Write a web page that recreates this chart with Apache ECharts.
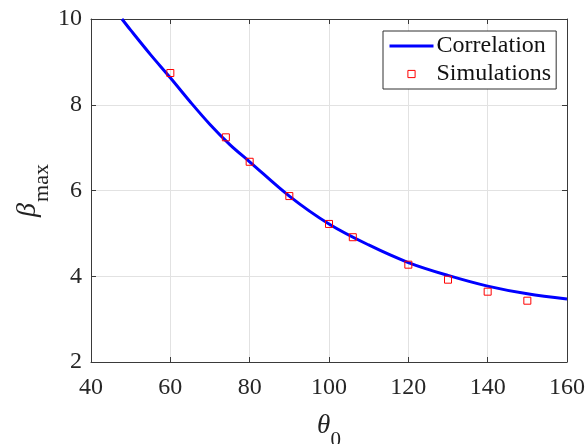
<!DOCTYPE html>
<html>
<head>
<meta charset="utf-8">
<script src="https://cdn.jsdelivr.net/npm/echarts@6/dist/echarts.min.js"></script>
<style>
  html, body { margin: 0; padding: 0; background: #fff; }
  #chart { width: 587px; height: 444px; }
</style>
</head>
<body>
<div id="chart"></div>
<script>
// Correlation curve for beta_max as a function of theta_0
const corrTheta = [47.8, 50, 55, 60, 65, 70, 75, 80, 90, 100, 110, 120, 130, 140, 150, 160];
const corrBeta  = [10.0, 9.74, 9.17, 8.63, 8.07, 7.54, 7.07, 6.67, 5.87, 5.22, 4.73, 4.32, 4.02, 3.77, 3.59, 3.47];

// Simulation results
const simTheta = [60, 74, 80, 90, 100, 106, 120, 130, 140, 150];
const simBeta  = [8.74, 7.24, 6.67, 5.87, 5.22, 4.91, 4.27, 3.92, 3.64, 3.43];

// Axis ranges
const xRange = { min: 40, max: 160, interval: 20 };
const yRange = { min: 2, max: 10, interval: 2 };

const serif = '"Liberation Serif", "Times New Roman", Times, serif';
const axisColor = '#3a3a3a';

const chart = echarts.init(document.getElementById('chart'), null, { renderer: 'canvas' });

const pairs = (xs, ys) => xs.map((x, i) => [x, ys[i]]);

const boxAxis = (extra) => Object.assign({
  type: 'value',
  axisLine: { show: true, lineStyle: { color: axisColor, width: 1 } },
  axisTick: { show: true, inside: true, length: 5, lineStyle: { color: axisColor } },
  axisLabel: { show: false },
  splitLine: { show: false }
}, extra);

chart.setOption({
  animation: false,
  backgroundColor: '#fff',
  grid: { left: 91, right: 20, top: 19, bottom: 82, containLabel: false, outerBoundsMode: 'none' },
  legend: {
    orient: 'vertical',
    left: 383,
    top: 31,
    padding: [3, 5, 3, 5],
    itemWidth: 44,
    itemHeight: 9,
    itemGap: 4,
    backgroundColor: '#fff',
    borderColor: '#303030',
    borderWidth: 1,
    borderRadius: 0,
    textStyle: { fontFamily: serif, fontSize: 24, color: '#111', lineHeight: 24, padding: [0, 0, 0, -2] },
    data: [
      { name: 'Correlation', itemStyle: { color: 'rgba(0,0,0,0)', borderWidth: 0 },
        lineStyle: { color: '#0000ff', width: 3 } },
      { name: 'Simulations', itemStyle: { color: 'rgba(0,0,0,0)', borderColor: '#ff0000', borderWidth: 1 },
        lineStyle: { width: 0 } }
    ]
  },
  xAxis: [
    {
      type: 'value',
      min: xRange.min, max: xRange.max, interval: xRange.interval,
      name: '{t|θ}{s|0}',
      nameLocation: 'middle',
      nameGap: 49,
      nameMoveOverlap: false,
      nameTextStyle: {
        rich: {
          t: { fontFamily: serif, fontStyle: 'italic', fontSize: 27, color: '#222', lineHeight: 30, verticalAlign: 'middle' },
          s: { fontFamily: serif, fontSize: 21, color: '#222', lineHeight: 14, verticalAlign: 'bottom', padding: [0, 0, -10, 0] }
        }
      },
      axisLine: { show: true, lineStyle: { color: axisColor, width: 1 } },
      axisTick: { show: true, inside: true, length: 5, lineStyle: { color: axisColor } },
      axisLabel: { fontFamily: serif, fontSize: 24, color: '#262626', margin: 14 },
      splitLine: { show: true, lineStyle: { color: '#e2e2e2', width: 1 } }
    },
    boxAxis({ position: 'top', min: xRange.min, max: xRange.max, interval: xRange.interval })
  ],
  yAxis: [
    {
      type: 'value',
      min: yRange.min, max: yRange.max, interval: yRange.interval,
      name: '{b|β}{s|max}',
      nameLocation: 'middle',
      nameGap: 48,
      nameMoveOverlap: false,
      nameTextStyle: {
        rich: {
          b: { fontFamily: serif, fontStyle: 'italic', fontSize: 28, color: '#222', lineHeight: 30, verticalAlign: 'middle' },
          s: { fontFamily: serif, fontSize: 22, color: '#222', lineHeight: 14, verticalAlign: 'bottom', padding: [0, 0, -10, 1] }
        }
      },
      axisLine: { show: true, lineStyle: { color: axisColor, width: 1 } },
      axisTick: { show: true, inside: true, length: 5, lineStyle: { color: axisColor } },
      axisLabel: { fontFamily: serif, fontSize: 24, color: '#262626', margin: 9 },
      splitLine: { show: true, lineStyle: { color: '#e2e2e2', width: 1 } }
    },
    boxAxis({ position: 'right', min: yRange.min, max: yRange.max, interval: yRange.interval })
  ],
  series: [
    {
      name: 'Correlation',
      type: 'line',
      data: pairs(corrTheta, corrBeta),
      smooth: 0.35,
      symbol: 'none',
      lineStyle: { color: '#0000ff', width: 3 },
      itemStyle: { color: '#0000ff' },
      z: 3
    },
    {
      name: 'Simulations',
      type: 'line',
      data: pairs(simTheta, simBeta),
      symbol: 'rect',
      symbolSize: 7,
      showSymbol: true,
      lineStyle: { width: 0, opacity: 0 },
      itemStyle: { color: 'rgba(255,255,255,0)', borderColor: '#ff0000', borderWidth: 1 },
      z: 4
    }
  ]
});
</script>
</body>
</html>
